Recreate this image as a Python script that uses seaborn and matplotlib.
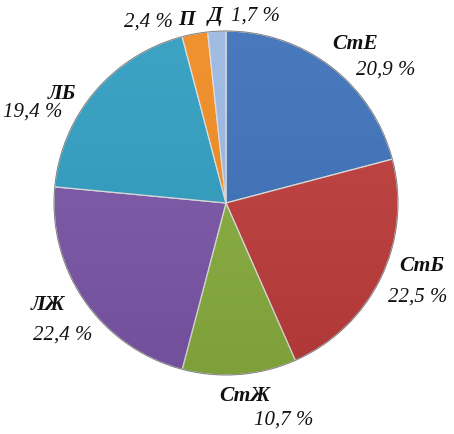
import numpy as np
import matplotlib

matplotlib.use("Agg")
import matplotlib.pyplot as plt
import seaborn as sns
from matplotlib.patches import Circle

sns.set_theme(style="white")
plt.rcParams["font.family"] = ["Liberation Serif", "DejaVu Serif"]

# ── Data ─────────────────────────────────────────────
categories = ["СтЕ", "СтБ", "СтЖ", "ЛЖ", "ЛБ", "П", "Д"]
shares = [20.9, 22.5, 10.7, 22.4, 19.4, 2.4, 1.7]
colors = ["#3C70B8", "#BC3B3A", "#87AB3D", "#7A55A6", "#2F9CBF", "#F08A22", "#9BB8E2"]

# label layout: offset of the name from the wedge edge, and of the value from the name
name_offsets = [(0.14, 0.13), (0.24, 0.07), (0.03, -0.125), (-0.215, -0.02),
                (-0.19, -0.013), (-0.046, 0.081), (-0.011, 0.088)]
value_offsets = [(0.18, -0.152), (-0.024, -0.181), (0.226, -0.14), (0.087, -0.174),
                 (-0.169, -0.105), (-0.226, -0.012), (0.233, 0.0)]

fig = plt.figure(figsize=(4.54, 4.34), dpi=100)
ax = fig.add_axes([0, 0, 1, 1])

wedges, _ = ax.pie(shares, colors=colors, startangle=90, counterclock=False,
                   radius=1.0, wedgeprops=dict(edgecolor="#dcdcdc", linewidth=0.9))

# soft top-to-bottom shading like the office "3D" style
grad = np.linspace(1, 0, 256).reshape(-1, 1)
shade = ax.imshow(grad, extent=(-1, 1, -1, 1), cmap="Greys_r", alpha=0.07,
                  aspect="auto", zorder=3, interpolation="bicubic")
shade.set_clip_path(Circle((0, 0), 1.0, transform=ax.transData))

# outer dark rim
ax.add_patch(Circle((0, 0), 1.0, fill=False, edgecolor="#7a7a7a", linewidth=0.6, zorder=4))

# ── Labels ───────────────────────────────────────────
for w, name, val, no, vo in zip(wedges, categories, shares, name_offsets, value_offsets):
    theta = np.deg2rad((w.theta1 + w.theta2) / 2)
    nx = np.cos(theta) + no[0]
    ny = np.sin(theta) + no[1]
    ax.text(nx, ny, name, ha="center", va="center", fontsize=15.5,
            fontstyle="italic", fontweight="bold", color="#111111")
    ax.text(nx + vo[0], ny + vo[1], f"{val:.1f}".replace(".", ",") + " %",
            ha="center", va="center", fontsize=15, fontstyle="italic", color="#111111")

ax.set_xlim(-226 / 172, (454 - 226) / 172)
ax.set_ylim(-(434 - 203) / 172, 203 / 172)
ax.set_aspect("equal")
ax.axis("off")

plt.savefig("out.png", dpi=100)
